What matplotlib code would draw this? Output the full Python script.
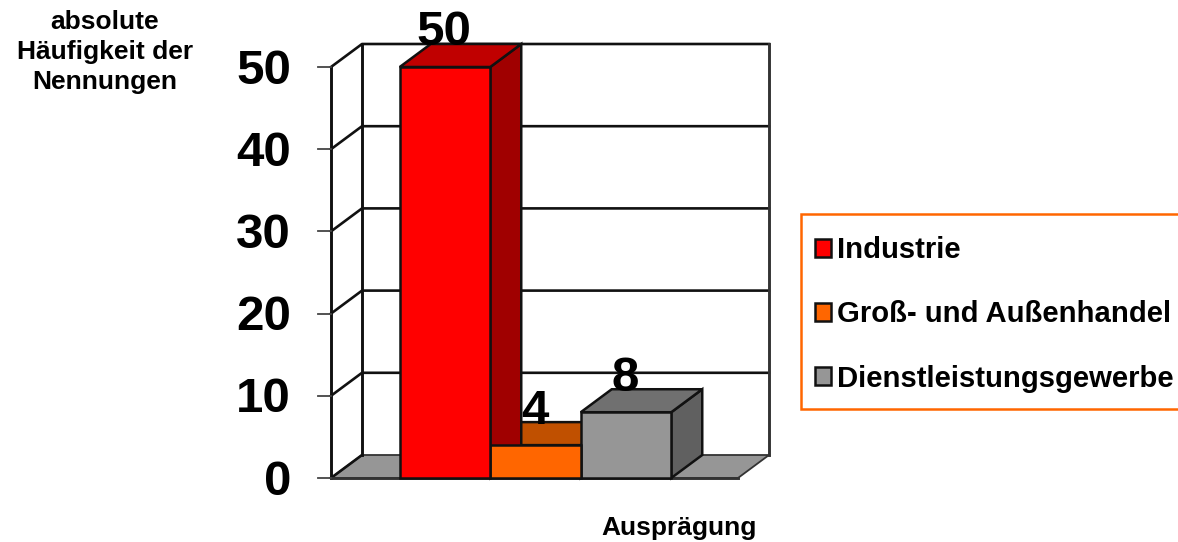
"""3D-Säulendiagramm: absolute Häufigkeit der Nennungen je Branche"""
import matplotlib
matplotlib.use("Agg")
import matplotlib.pyplot as plt
from matplotlib.patches import Polygon, Patch, Rectangle

plt.rcParams["font.family"] = ["Liberation Sans", "DejaVu Sans"]
plt.rcParams["font.weight"] = "bold"

categories = ["Industrie", "Groß- und Außenhandel", "Dienstleistungsgewerbe"]
values = [50, 4, 8]
y_ticks = [0, 10, 20, 30, 40, 50]

front_colors = ["#ff0000", "#ff6600", "#969696"]
top_colors = ["#c00000", "#c05000", "#707070"]
side_colors = ["#a00000", "#a04000", "#606060"]

W, H = 1178, 542
X0, Y0 = 445.0, 478.0       # Pixel von Balken 0 / Wert 0
BAR_W, UNIT = 90.5, 8.22    # Pixel pro Balken / pro Wert
DX = 31 / BAR_W             # Tiefe in Datenkoordinaten
DY = 23 / UNIT
LEFT, RIGHT = (331 - X0) / BAR_W, (738 - X0) / BAR_W

fig = plt.figure(figsize=(W / 100, H / 100), dpi=100, facecolor="white")
ax = fig.add_axes([0, 0, 1, 1])
ax.set_xlim(-X0 / BAR_W, (W - X0) / BAR_W)
ax.set_ylim((Y0 - H) / UNIT, Y0 / UNIT)
ax.axis("off")

EDGE = "#111111"
top = y_ticks[-1]

# Boden
ax.add_patch(Polygon([(LEFT, 0), (LEFT + DX, DY), (RIGHT + DX, DY), (RIGHT, 0)],
                     facecolor="#969696", edgecolor="#333333", lw=1.3, zorder=1))
# Wände und Gitterlinien
for t in y_ticks[1:]:
    ax.plot([LEFT, LEFT + DX, RIGHT + DX], [t, t + DY, t + DY], color=EDGE, lw=1.9, zorder=1)
ax.plot([LEFT, LEFT], [0, top], color=EDGE, lw=2.1, zorder=1)
ax.plot([LEFT + DX, LEFT + DX], [DY, top + DY], color=EDGE, lw=2.1, zorder=1)
ax.plot([RIGHT + DX, RIGHT + DX], [DY, top + DY], color="#333333", lw=2.1, zorder=1)
ax.plot([LEFT, LEFT + DX], [0, DY], color=EDGE, lw=1.9, zorder=1)
ax.plot([LEFT, RIGHT], [0, 0], color="#333333", lw=2.1, zorder=2)

# y-Achse
for t in y_ticks:
    ax.plot([LEFT - 13 / BAR_W, LEFT], [t, t], color="#444444", lw=1.3, zorder=2)
    ax.text(LEFT - 40 / BAR_W, t - 0.5, str(t), ha="right", va="center", fontsize=35.5, color="black", zorder=5)

# Balken von hinten nach vorn, rechts zuerst wegen Überdeckung der Seitenflächen
xs = list(range(len(values)))
for i in reversed(xs):
    x, v = xs[i], values[i]
    l, r = x - 0.5, x + 0.5
    ax.add_patch(Polygon([(r, 0), (r + DX, DY), (r + DX, v + DY), (r, v)],
                         facecolor=side_colors[i], edgecolor=EDGE, lw=1.8, zorder=3))
    ax.add_patch(Polygon([(l, v), (l + DX, v + DY), (r + DX, v + DY), (r, v)],
                         facecolor=top_colors[i], edgecolor=EDGE, lw=1.8, zorder=3))
    ax.bar(x, v, width=1.0, color=front_colors[i], edgecolor=EDGE, lw=1.8, zorder=4)

# Wertebeschriftung
for x, v in zip(xs, values):
    ax.text(x - 0.01, v + DY + 1.35, str(v), ha="center", va="center", fontsize=35.5, color="black", zorder=6)

# Achsentitel
fig.text(105 / W, 1 - 52 / H, "absolute\nHäufigkeit der\nNennungen", ha="center", va="center",
         fontsize=19, linespacing=1.34)
fig.text(679 / W, 1 - 528 / H, "Ausprägung", ha="center", va="center", fontsize=19)

# Legende: Rahmen läuft rechts aus dem Bild
ax.add_patch(Rectangle((801 / W, 1 - 409 / H), 400 / W, 195 / H, transform=fig.transFigure,
                       facecolor="white", edgecolor="#ff6600", lw=1.8, zorder=6))
handles = [Patch(facecolor=c, edgecolor="#111111", lw=1.8) for c in front_colors]
leg = ax.legend(handles, categories, loc="upper left", bbox_to_anchor=(815 / W, 1 - 236 / H),
                bbox_transform=fig.transFigure, fontsize=21.1, frameon=False, borderaxespad=0,
                handlelength=0.55, handleheight=0.58, handletextpad=0.2, labelspacing=1.24,
                borderpad=0)
leg.set_zorder(7)

fig.savefig("out.png", dpi=100)
